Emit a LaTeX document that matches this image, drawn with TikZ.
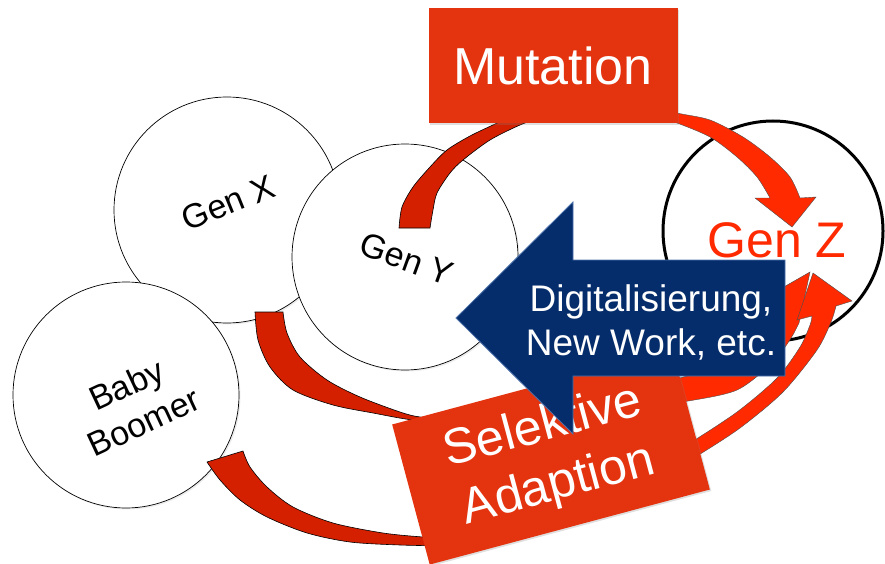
\documentclass[tikz,border=0pt]{standalone}
\usepackage{fontspec}
\setmainfont{Liberation Sans}
\usetikzlibrary{shadows}
\definecolor{boxred}{HTML}{E3330F}
\definecolor{bandred}{HTML}{D52000}
\definecolor{brightred}{HTML}{FF2A00}
\definecolor{navy}{HTML}{062D6B}
\definecolor{navyedge}{HTML}{4F74AD}
\tikzstyle{gen}=[circle,draw=black,fill=white,line width=0.7pt,minimum size=226pt,inner sep=0pt,drop shadow={opacity=0.15,shadow xshift=1.5pt,shadow yshift=-1.5pt}]
\tikzstyle{genlabel}=[font=\fontsize{34}{41}\selectfont,align=center,inner sep=0pt]
\tikzstyle{redbox}=[rectangle,fill=boxred,text=white,inner sep=0pt,drop shadow={opacity=0.25,shadow xshift=1.5pt,shadow yshift=-1.5pt}]
\tikzstyle{band}=[fill=bandred,draw=black,line width=0.6pt]
\tikzstyle{brightband}=[fill=brightred,draw=black!70,line width=0.4pt]
\tikzset{every picture/.style={x=1pt,y=-1pt}}

\begin{document}
\begin{tikzpicture}
      \useasboundingbox (0,0) rectangle (885,564);
      \node[gen] at (227,210) (genx) {};
      \node[gen] at (126,395) (boomer) {};
      \node[gen] at (405,257) (geny) {};
      \node[gen,minimum size=220pt,line width=3pt] at (773,231) (genz) {};
      \node[genlabel,rotate=22] at (228,203) (genxtext) {Gen X};
      \node[genlabel,rotate=-20] at (407,259) (genytext) {Gen Y};
      \node[genlabel,rotate=25] at (135,403) (boomertext) {Baby\\Boomer};
      \node[genlabel,font=\fontsize{50}{60}\selectfont,text=brightred,anchor=base] at (777,257) (genztext) {Gen Z};
      \path[band] plot[smooth] coordinates {(399,228) (402,207) (413,187) (430,167) (447,150) (470,136) (495,124) (520,112)}
        -- plot[smooth] coordinates {(545,116) (520,125) (490,140) (463,160) (450,173) (437,193) (433,210) (430,228)} -- cycle;
      \path[band] plot[smooth] coordinates {(255,312) (258,340) (270,367) (293,390) (333,405) (373,413) (413,420) (450,421)}
        -- plot[smooth] coordinates {(450,419) (420,417) (400,412) (360,397) (327,380) (300,357) (287,333) (283,312)} -- cycle;
      \path[band] plot[smooth] coordinates {(207,462) (220,480) (240,500) (267,517) (307,533) (350,542) (400,545) (450,546)}
        -- plot[smooth] coordinates {(450,538) (423,537) (383,533) (333,523) (293,507) (267,487) (250,467) (243,451)} -- cycle;
      \path[brightband] plot[smooth] coordinates {(650,385) (700,372) (745,350) (775,322) (783,303)}
        -- (768,296) -- (810,272) -- (799,323)
        -- plot[smooth] coordinates {(794,333) (775,360) (737,390) (683,402) (660,406)} -- cycle;
      \path[brightband] plot[smooth] coordinates {(685,462) (697,456) (740,428) (783,392) (817,350) (831,322) (836,306)}
        -- (852,301) -- (813,273) -- (797,320)
        -- plot[smooth] coordinates {(812,316) (810,325) (800,347) (777,378) (737,412) (690,443) (678,450)} -- cycle;
      \path[brightband] plot[smooth] coordinates {(665,108) (677,113) (710,120) (743,137) (770,157) (790,177) (800,198)}
        -- (816,197) -- (792,227) -- (755,198)
        -- plot[smooth] coordinates {(770,198) (757,177) (737,157) (710,137) (677,123) (665,120)} -- cycle;
      \node[redbox,minimum width=249pt,minimum height=115pt,font=\fontsize{52}{62}\selectfont] at (553,66) (mutation) {Mutation};
      \node[redbox,rotate=15,minimum width=290pt,minimum height=145pt,font=\fontsize{50}{60}\selectfont,align=center] at (551,457) (selektiv) {Selektive\\Adaption};
      \path[fill=navy,draw=navyedge,line width=0.8pt] (785,260) -- (573,260) -- (573,202) -- (456,318) -- (573,434) -- (573,376) -- (785,376) -- cycle;
      \node[font=\fontsize{37}{44}\selectfont,text=white,align=center,inner sep=0pt] at (651,322) (digital) {Digitalisierung,\\New Work, etc.};
\end{tikzpicture}
\end{document}
